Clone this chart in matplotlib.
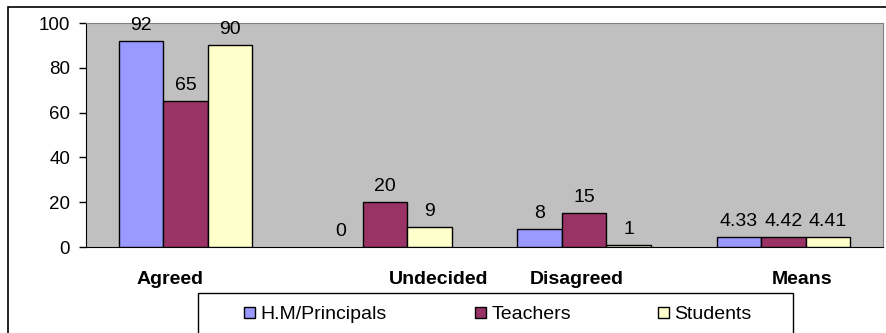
import numpy as np
import matplotlib
matplotlib.use('Agg')
import matplotlib.pyplot as plt
from matplotlib.patches import Rectangle
from matplotlib.transforms import offset_copy

plt.rcParams['font.family'] = ['Liberation Sans', 'DejaVu Sans']

categories = ['Agreed', 'Undecided', 'Disagreed', 'Means']
series = ['H.M/Principals', 'Teachers', 'Students']
principals = [92, 0, 8, 4.33]
teachers = [65, 20, 15, 4.42]
students = [90, 9, 1, 4.41]
value_labels = [['92', '0', '8', '4.33'],
                ['65', '20', '15', '4.42'],
                ['90', '9', '1', '4.41']]

colors = ['#9999FF', '#993366', '#FFFFCC']
fs = 14

W, H = 887, 333
fig = plt.figure(figsize=(W / 100, H / 100), dpi=100)
# outer chart frame (runs off the right and bottom edges)
fig.patches.append(Rectangle((8 / W, -0.2), 1.0, 1.2 - 7 / H, transform=fig.transFigure,
                             fill=False, edgecolor='black', linewidth=1.2))

ax = fig.add_axes([86 / W, 1 - 247 / H, 797 / W, 224 / H])
ax.set_facecolor('#C0C0C0')

x = np.arange(len(categories))
w = 0.223
for i, (vals, col) in enumerate(zip([principals, teachers, students], colors)):
    pos = x + (i - 1) * w
    edges = ['black' if v > 0 else 'none' for v in vals]
    ax.bar(pos, vals, width=w, color=col, edgecolor=edges, linewidth=1.0,
           label=series[i], zorder=3)
    for px, v, t in zip(pos, vals, value_labels[i]):
        ax.annotate(t, (px, v), xytext=(0, 5), textcoords='offset points',
                    ha='center', va='bottom', fontsize=fs)

ax.set_xlim(-0.5, 3.5)
ax.set_ylim(0, 100)
ax.set_yticks(np.arange(0, 101, 20))
ax.tick_params(axis='y', direction='out', length=5, width=1, pad=6.5, labelsize=13.5)
ax.set_xticks(x)
ax.set_xticklabels(categories, fontsize=fs, fontweight='bold')
ax.tick_params(axis='x', length=0, pad=17.5)

# shift category labels like in the original sheet
label_shift = [-16, 54, -7, 19]
for lab, dx in zip(ax.get_xticklabels(), label_shift):
    lab.set_transform(offset_copy(lab.get_transform(), fig=fig, x=dx, y=0, units='dots'))

for s in ['top', 'right']:
    ax.spines[s].set_color('#808080')
ax.spines['left'].set_color('black')
ax.spines['bottom'].set_color('black')

# legend box and its three entries at fixed columns
fig.patches.append(Rectangle((198 / W, -0.2), 595 / W, 0.2 + 1 - 293 / H,
                             transform=fig.transFigure, fill=False,
                             edgecolor='black', linewidth=1.0))
handles, labels = ax.get_legend_handles_labels()
entry_x = [244, 475, 658]
for h, l, ex in zip(handles, labels, entry_x):
    leg = fig.legend([h], [l], loc='center left', bbox_to_anchor=(ex / W, 1 - 314.5 / H),
                     frameon=False, fontsize=fs, handlelength=0.55, handleheight=0.5,
                     handletextpad=0.3, borderpad=0, borderaxespad=0)
    for lh in leg.legend_handles:
        lh.set_edgecolor('black')

fig.savefig('out.png', dpi=100)
